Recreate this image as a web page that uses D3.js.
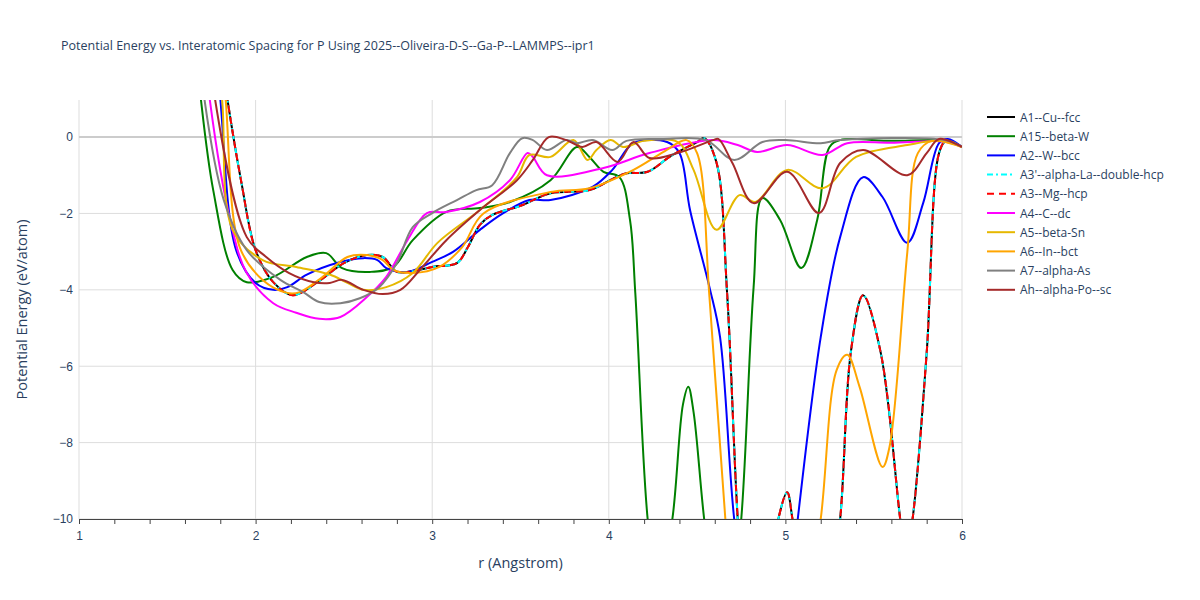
<!DOCTYPE html>
<html><head><meta charset="utf-8">
<script src="https://cdn.jsdelivr.net/npm/d3@7"></script>
<style>body{margin:0;background:#fff;font-family:"Open Sans",sans-serif}</style>
</head><body><svg id="chart" width="1200" height="600"></svg>
<script>
// [r, E] pairs
var fcc = [[1.78,3],[1.84,1],[1.92,-1.2],[2.0,-2.96],[2.1,-3.8],[2.21,-4.14],[2.35,-3.8],[2.5,-3.3],[2.63,-3.09],[2.72,-3.14],[2.8,-3.53],[2.9,-3.5],[3.0,-3.4],[3.14,-3.3],[3.2,-2.9],[3.27,-2.3],[3.34,-2.04],[3.5,-1.8],[3.67,-1.47],[3.89,-1.39],[4.02,-1.1],[4.1,-0.95],[4.22,-0.91],[4.35,-0.5],[4.5,-0.13],[4.54,-0.03],[4.61,-0.67],[4.67,-4.1],[4.73,-10],[4.78,-13],[4.9,-12],[4.96,-10],[5.01,-9.3],[5.04,-10],[5.1,-12],[5.25,-12],[5.31,-10],[5.37,-5.65],[5.44,-4.14],[5.54,-5.65],[5.65,-10],[5.68,-11],[5.72,-10],[5.8,-5.65],[5.87,-0.42],[5.91,-0.1],[6.0,-0.26]];
var fccDouble = fcc;
var hcp = fcc;
var betaW = [[1.65,3],[1.69,1],[1.76,-1.39],[1.87,-3.48],[1.95,-3.8],[2.1,-3.66],[2.29,-3.14],[2.4,-3.04],[2.49,-3.43],[2.65,-3.53],[2.78,-3.4],[2.89,-2.7],[3.08,-1.96],[3.27,-1.86],[3.44,-1.7],[3.67,-1.13],[3.82,-0.26],[3.89,-0.52],[3.97,-0.91],[4.06,-1.05],[4.12,-2.17],[4.15,-4.08],[4.22,-10],[4.28,-12],[4.36,-10],[4.42,-7],[4.45,-6.54],[4.48,-7.2],[4.54,-10],[4.6,-12],[4.7,-12],[4.75,-10],[4.82,-3.93],[4.87,-1.6],[4.97,-2.17],[5.09,-3.43],[5.18,-2.17],[5.25,-0.26],[5.31,-0.08],[5.6,-0.1],[5.9,-0.1],[6.0,-0.26]];
var bcc = [[1.76,3],[1.8,1],[1.89,-2.96],[2.0,-3.82],[2.1,-4.0],[2.18,-3.93],[2.29,-3.6],[2.48,-3.27],[2.61,-3.17],[2.69,-3.22],[2.74,-3.43],[2.86,-3.53],[3.0,-3.27],[3.12,-3.0],[3.27,-2.43],[3.4,-2.0],[3.55,-1.65],[3.67,-1.65],[3.91,-1.3],[4.02,-0.86],[4.14,-0.16],[4.33,-0.13],[4.4,-0.42],[4.46,-1.91],[4.57,-3.93],[4.63,-5.24],[4.71,-10],[4.8,-13],[5.0,-13],[5.07,-10],[5.2,-5.24],[5.31,-2.62],[5.44,-1.05],[5.55,-1.57],[5.69,-2.77],[5.78,-1.73],[5.87,-0.16],[5.92,-0.05],[6.0,-0.26]];
var dc = [[1.7,3],[1.74,1],[1.86,-2.25],[1.95,-3.56],[2.1,-4.35],[2.23,-4.6],[2.36,-4.76],[2.48,-4.71],[2.63,-4.19],[2.74,-3.66],[2.86,-2.7],[2.97,-1.99],[3.08,-1.96],[3.27,-1.7],[3.44,-1.13],[3.54,-0.42],[3.57,-0.52],[3.65,-1.0],[3.97,-0.81],[4.23,-0.42],[4.59,-0.08],[4.73,-0.21],[4.84,-0.39],[5.01,-0.21],[5.21,-0.47],[5.35,-0.16],[5.6,-0.15],[5.9,-0.12],[6.0,-0.26]];
var betaSn = [[1.76,3],[1.81,1],[1.87,-2.43],[2.04,-3.22],[2.23,-3.4],[2.42,-3.6],[2.52,-3.82],[2.61,-4.0],[2.74,-3.93],[2.89,-3.56],[3.03,-2.77],[3.27,-1.91],[3.48,-1.05],[3.55,-0.47],[3.67,-0.52],[3.8,-0.08],[3.88,-0.6],[3.93,-0.34],[4.01,-0.08],[4.08,-0.26],[4.2,-0.1],[4.39,-0.13],[4.48,-0.86],[4.61,-2.43],[4.74,-1.52],[4.83,-1.7],[5.01,-0.86],[5.21,-1.34],[5.4,-0.52],[5.69,-0.21],[5.87,-0.1],[6.0,-0.26]];
var inBct = [[1.79,3],[1.83,1],[1.91,-2.88],[2.04,-3.74],[2.18,-4.08],[2.25,-4.06],[2.38,-3.66],[2.52,-3.14],[2.63,-3.09],[2.72,-3.22],[2.78,-3.48],[2.89,-3.56],[3.04,-3.4],[3.17,-2.88],[3.29,-2.0],[3.67,-1.44],[3.89,-1.34],[4.14,-0.86],[4.31,-0.39],[4.44,-0.08],[4.5,-0.42],[4.57,-4.19],[4.66,-10],[4.72,-13],[5.1,-13],[5.2,-10],[5.29,-6.1],[5.35,-5.7],[5.42,-6.54],[5.55,-8.64],[5.59,-8.1],[5.69,-3.03],[5.75,-0.42],[5.83,-0.1],[6.0,-0.26]];
var alphaAs = [[1.67,3],[1.71,1],[1.82,-1.65],[1.95,-2.96],[2.14,-3.74],[2.27,-4.06],[2.36,-4.32],[2.48,-4.35],[2.59,-4.22],[2.7,-3.93],[2.8,-3.3],[2.89,-2.36],[3.0,-1.99],[3.14,-1.65],[3.25,-1.39],[3.34,-1.26],[3.44,-0.42],[3.51,-0.03],[3.57,-0.08],[3.65,-0.34],[3.76,-0.08],[3.82,-0.16],[3.91,-0.08],[4.02,-0.34],[4.1,-0.1],[4.3,-0.05],[4.55,-0.08],[4.71,-0.6],[4.87,-0.13],[5.0,-0.08],[5.2,-0.16],[5.31,-0.08],[5.9,-0.08],[6.0,-0.26]];
var alphaPo = [[1.73,3],[1.77,1],[1.95,-2.62],[2.06,-3.14],[2.19,-3.56],[2.33,-3.8],[2.42,-3.82],[2.49,-3.74],[2.61,-4.0],[2.72,-4.11],[2.82,-4.0],[2.93,-3.48],[3.08,-2.7],[3.27,-1.91],[3.48,-1.13],[3.57,-0.6],[3.66,0.0],[3.76,-0.08],[3.85,-0.26],[3.93,-0.13],[4.05,-0.65],[4.14,-0.13],[4.23,-0.55],[4.39,-0.42],[4.59,-0.08],[4.62,-0.05],[4.7,-0.68],[4.82,-1.73],[5.01,-0.91],[5.19,-1.99],[5.31,-0.68],[5.44,-0.34],[5.69,-1.0],[5.8,-0.42],[5.87,-0.05],[6.0,-0.26]];

var names = ["A1--Cu--fcc","A15--beta-W","A2--W--bcc","A3'--alpha-La--double-hcp","A3--Mg--hcp","A4--C--dc","A5--beta-Sn","A6--In--bct","A7--alpha-As","Ah--alpha-Po--sc"];
var seriesData = [fcc, betaW, bcc, fccDouble, hcp, dc, betaSn, inBct, alphaAs, alphaPo];
var colors = ["black","green","blue","cyan","red","magenta","#e6b800","orange","grey","brown"];
var dashes = [null,null,null,"6,3,2,3","7,5",null,null,null,null,null];
var xTicks = [1,2,3,4,5,6];
var yTicks = [-10,-8,-6,-4,-2,0];

var svg = d3.select("#chart");
var m = {left: 79, right: 962, top: 100, bottom: 519};
var x = d3.scaleLinear().domain([1, 6]).range([m.left, m.right]);
var y = d3.scaleLinear().domain([-10, 0.97]).range([m.bottom, m.top]);
var txt = "#2a3f5f";

svg.append("defs").append("clipPath").attr("id", "clip")
  .append("rect").attr("x", m.left).attr("y", m.top)
  .attr("width", m.right - m.left).attr("height", m.bottom - m.top);

// grid
svg.append("g").selectAll("line").data(xTicks).join("line")
  .attr("x1", d => x(d)).attr("x2", d => x(d)).attr("y1", m.top).attr("y2", m.bottom)
  .attr("stroke", "#ddd");
svg.append("g").selectAll("line").data(yTicks).join("line")
  .attr("x1", m.left).attr("x2", m.right).attr("y1", d => y(d)).attr("y2", d => y(d))
  .attr("stroke", d => d === 0 ? "#ccc" : "#ddd").attr("stroke-width", d => d === 0 ? 2 : 1);

// axes
var xAxis = svg.append("g").attr("transform", "translate(0," + m.bottom + ")")
  .call(d3.axisBottom(x).tickValues(d3.range(1, 6.001, 0.2)).tickSize(5)
    .tickFormat(d => Math.abs(d - Math.round(d)) < 1e-6 ? d3.format("d")(Math.round(d)) : ""));
xAxis.select(".domain").attr("stroke", "#444");
xAxis.selectAll(".tick line").attr("stroke", "#444");
xAxis.selectAll("text").attr("fill", txt).attr("font-size", 12).attr("dy", "1.1em");

var yAxis = svg.append("g").attr("transform", "translate(" + m.left + ",0)")
  .call(d3.axisLeft(y).tickValues(yTicks).tickSize(0).tickPadding(6).tickFormat(d => d < 0 ? "\u2212" + (-d) : d));
yAxis.select(".domain").remove();
yAxis.selectAll("text").attr("fill", txt).attr("font-size", 12);

// lines
var line = d3.line().x(d => x(d[0])).y(d => y(d[1])).curve(d3.curveCatmullRom.alpha(0.5));
var g = svg.append("g").attr("clip-path", "url(#clip)");
seriesData.forEach(function(s, i) {
  g.append("path").datum(s).attr("d", line).attr("fill", "none")
    .attr("stroke", colors[i]).attr("stroke-width", 2)
    .attr("stroke-dasharray", dashes[i]);
});

// titles
svg.append("text").attr("x", 61).attr("y", 50).attr("font-size", 12.5).attr("fill", txt)
  .text("Potential Energy vs. Interatomic Spacing for P Using 2025--Oliveira-D-S--Ga-P--LAMMPS--ipr1");
svg.append("text").attr("x", (m.left + m.right) / 2).attr("y", 568).attr("text-anchor", "middle")
  .attr("font-size", 14.5).attr("fill", txt).text("r (Angstrom)");
svg.append("text").attr("transform", "translate(27," + ((m.top + m.bottom) / 2) + ") rotate(-90)")
  .attr("text-anchor", "middle").attr("font-size", 14.5).attr("fill", txt).text("Potential Energy (eV/atom)");

// legend
var lg = svg.append("g").attr("transform", "translate(987,117)");
names.forEach(function(n, i) {
  var row = lg.append("g").attr("transform", "translate(0," + (i * 19.2) + ")");
  row.append("line").attr("x1", 0).attr("x2", 28).attr("stroke", colors[i])
    .attr("stroke-width", 2).attr("stroke-dasharray", dashes[i]);
  row.append("text").attr("x", 33).attr("y", 4.5).attr("font-size", 12).attr("fill", txt).text(n);
});
</script></body></html>
